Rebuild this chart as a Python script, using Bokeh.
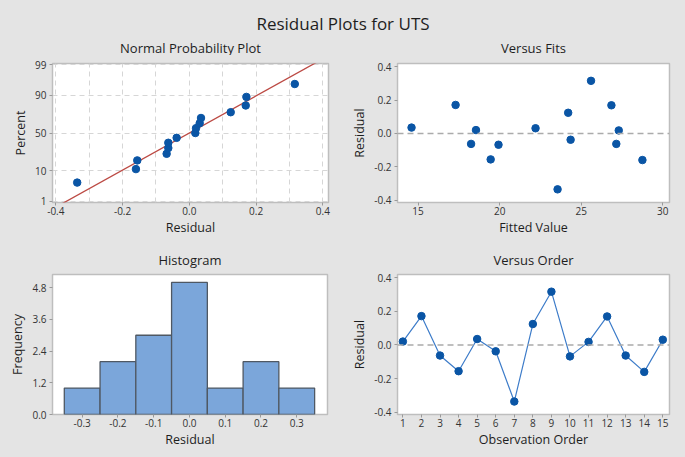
import math
import numpy as np
from bokeh.plotting import figure
from bokeh.layouts import column, row
from bokeh.models import (Range1d, FixedTicker, SingleIntervalTicker, Span, Label,
                          NumeralTickFormatter, CustomJSTickFormatter, ColumnDataSource)
from bokeh.embed import file_html
from bokeh.resources import INLINE

# ---------------- data ----------------
main_title = "Residual Plots for UTS"
panel_titles = ["Normal Probability Plot", "Versus Fits", "Histogram", "Versus Order"]

observation = list(range(1, 16))
residual = [0.020, 0.171, -0.063, -0.156, 0.035, -0.038, -0.336, 0.124, 0.316,
            -0.068, 0.018, 0.169, -0.063, -0.160, 0.031]
fitted = [18.55, 17.30, 18.25, 19.45, 14.60, 24.35, 23.55, 24.20, 25.60,
          19.93, 27.30, 26.85, 27.15, 28.75, 22.20]

npp_percent = [4.6, 11.0, 17.6, 24.0, 30.5, 37.0, 43.5, 50.0, 56.5, 63.0,
               69.5, 76.0, 82.5, 89.0, 95.2]
percent_ticks = [1, 10, 50, 90, 99]

hist_centers = [-0.3, -0.2, -0.1, 0.0, 0.1, 0.2, 0.3]
hist_counts = [1, 2, 3, 5, 1, 2, 1]

# ---------------- style / layout ----------------
BG = "#E4E4E4"
FONT = "Open Sans"
DOT = "#0A55A5"
LINE_BLUE = "#3D7CC9"
RED = "#BC4A44"
BAR = "#7BA6DA"
BAR_EDGE = "#4F5863"
FRAME = "#BEBEBE"
TXT = "#1E1E1E"

W, H = 685, 457
COL1_W, COL2_W = 342, 343
TOP_H = 55            # main title + row-1 panel titles
MID_H = 24            # row-2 panel titles
ROW1_H, ROW2_H = 190, 188
# frame borders: (left, right, top, bottom)
B1 = (52, 14, 8, 43)
B2 = (55, 16, 8, 43)
B3 = (52, 15, 5, 43)
B4 = (55, 16, 5, 43)
GAP1, GAP2 = 16, 15   # panel title centre above frame


def z_of(pct):
    lo, hi = -8.0, 8.0
    target = pct / 100.0
    for _ in range(100):
        mid = 0.5 * (lo + hi)
        if 0.5 * (1.0 + math.erf(mid / math.sqrt(2.0))) < target:
            lo = mid
        else:
            hi = mid
    return 0.5 * (lo + hi)


def make_fig(w, h, b, xr, yr, xlabel, ylabel):
    p = figure(width=w, height=h, x_range=xr, y_range=yr,
               output_backend="svg", toolbar_location=None,
               min_border_left=b[0], min_border_right=b[1],
               min_border_top=b[2], min_border_bottom=b[3],
               background_fill_color="white", border_fill_color=BG)
    p.outline_line_color = FRAME
    p.outline_line_width = 1.5
    p.grid.visible = False
    for ax in (p.xaxis[0], p.yaxis[0]):
        ax.axis_line_color = None
        ax.major_tick_line_color = "#9A9A9A"
        ax.major_tick_in = 0
        ax.major_tick_out = 3
        ax.minor_tick_line_color = None
        ax.major_label_text_font = FONT
        ax.major_label_text_font_size = "10px"
        ax.major_label_text_color = "#333333"
        ax.axis_label_text_font = FONT
        ax.axis_label_text_font_size = "12.5px"
        ax.axis_label_text_font_style = "normal"
        ax.axis_label_text_color = TXT
    p.xaxis.major_label_standoff = 1
    p.xaxis.axis_label_standoff = 1
    p.yaxis.major_label_standoff = 3
    p.yaxis.axis_label_standoff = 3
    p.xaxis.axis_label = xlabel
    p.yaxis.axis_label = ylabel
    return p


def strip(h):
    s = figure(width=W, height=h, x_range=Range1d(0, W), y_range=Range1d(h, 0),
               x_axis_type=None, y_axis_type=None, output_backend="svg",
               toolbar_location=None, min_border=0, outline_line_color=None,
               background_fill_color=BG, border_fill_color=BG)
    return s


def add_text(s, x, y, text, size):
    s.add_layout(Label(x=x, y=y, text=text, text_align="center", text_baseline="middle",
                       text_font=FONT, text_font_size=size, text_color=TXT))


def c1(b):
    return (b[0] + COL1_W - b[1]) / 2.0


def c2(b):
    return COL1_W + (b[0] + COL2_W - b[1]) / 2.0


top = strip(TOP_H)
add_text(top, W / 2.0, 23, main_title, "17px")
add_text(top, c1(B1), TOP_H + B1[2] - GAP1, panel_titles[0], "13px")
add_text(top, c2(B2), TOP_H + B2[2] - GAP1, panel_titles[1], "13px")

mid = strip(MID_H)
add_text(mid, c1(B3), MID_H + B3[2] - GAP2, panel_titles[2], "13px")
add_text(mid, c2(B4), MID_H + B4[2] - GAP2, panel_titles[3], "13px")

# ---------------- normal probability plot ----------------
z_ticks = [z_of(v) for v in percent_ticks]
zmax = z_of(99) + 0.035
p1 = make_fig(COL1_W, ROW1_H, B1, Range1d(-0.41, 0.417), Range1d(-zmax, zmax),
              "Residual", "Percent")
p1.xaxis.ticker = SingleIntervalTicker(interval=0.2, num_minor_ticks=0)
p1.xaxis.formatter = NumeralTickFormatter(format="0.0")
p1.yaxis.ticker = FixedTicker(ticks=z_ticks)
p1.yaxis.formatter = CustomJSTickFormatter(
    args=dict(zs=z_ticks, labels=[str(v) for v in percent_ticks]),
    code="""
let best = 0, bd = 1e9;
for (let i = 0; i < zs.length; i++) {
  const d = Math.abs(zs[i] - tick);
  if (d < bd) { bd = d; best = i; }
}
return labels[best];
""")
p1.xgrid.visible = True
p1.ygrid.visible = True
p1.xgrid.ticker = SingleIntervalTicker(interval=0.1, num_minor_ticks=0)
p1.ygrid.ticker = FixedTicker(ticks=z_ticks)
for g in (p1.xgrid[0], p1.ygrid[0]):
    g.grid_line_color = "#D6D6D6"
    g.grid_line_dash = "5 4"
    g.grid_line_width = 1

res_arr = np.array(residual)
mu = res_arr.mean()
sd = res_arr.std(ddof=1)
zz = np.array([-3.0, 3.0])
p1.line(mu + sd * zz, zz, line_color=RED, line_width=1.3)
npp_src = ColumnDataSource(dict(x=np.sort(res_arr), y=[z_of(v) for v in npp_percent]))
p1.scatter("x", "y", source=npp_src, size=7.5, fill_color=DOT, line_color=DOT)

# ---------------- versus fits ----------------
p2 = make_fig(COL2_W, ROW1_H, B2, Range1d(13.74, 30.41), Range1d(-0.415, 0.42),
              "Fitted Value", "Residual")
p2.xaxis.ticker = SingleIntervalTicker(interval=5, num_minor_ticks=0)
p2.yaxis.ticker = SingleIntervalTicker(interval=0.2, num_minor_ticks=0)
p2.yaxis.formatter = NumeralTickFormatter(format="0.0")
p2.add_layout(Span(location=0, dimension="width", line_color="#ABABAB",
                   line_dash="6 4", line_width=1.5))
p2.scatter(fitted, residual, size=7.5, fill_color=DOT, line_color=DOT)

# ---------------- histogram ----------------
p3 = make_fig(COL1_W, ROW2_H, B3, Range1d(-0.383, 0.386), Range1d(0, 5.3),
              "Residual", "Frequency")
p3.xaxis.ticker = SingleIntervalTicker(interval=0.1, num_minor_ticks=0)
p3.xaxis.formatter = NumeralTickFormatter(format="0.0")
p3.yaxis.ticker = SingleIntervalTicker(interval=1.2, num_minor_ticks=0)
p3.yaxis.formatter = NumeralTickFormatter(format="0.0")
p3.vbar(x=hist_centers, top=hist_counts, width=0.1, bottom=0,
        fill_color=BAR, line_color=BAR_EDGE, line_width=1.3)

# ---------------- versus order ----------------
p4 = make_fig(COL2_W, ROW2_H, B4, Range1d(0.71, 15.36), Range1d(-0.413, 0.418),
              "Observation Order", "Residual")
p4.xaxis.ticker = SingleIntervalTicker(interval=1, num_minor_ticks=0)
p4.yaxis.ticker = SingleIntervalTicker(interval=0.2, num_minor_ticks=0)
p4.yaxis.formatter = NumeralTickFormatter(format="0.0")
p4.add_layout(Span(location=0, dimension="width", line_color="#ABABAB",
                   line_dash="6 4", line_width=1.5))
p4.line(observation, residual, line_color=LINE_BLUE, line_width=1.2)
p4.scatter(observation, residual, size=7.5, fill_color=DOT, line_color=DOT)

layout = column(top, row(p1, p2), mid, row(p3, p4), styles={"background-color": BG})

open("out.html", "w").write(file_html(layout, INLINE))
